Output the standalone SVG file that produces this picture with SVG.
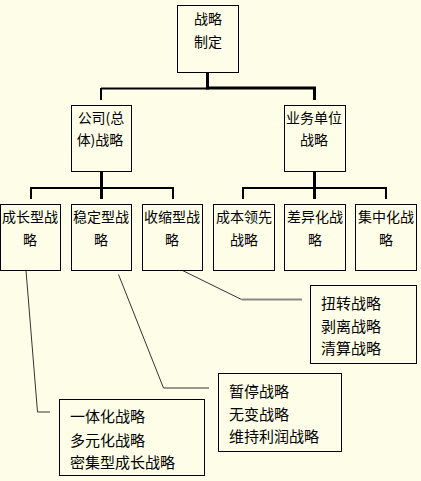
<svg xmlns="http://www.w3.org/2000/svg" width="421" height="481" viewBox="0 0 421 481">
<style>
.box{fill:none;stroke:#000;stroke-width:1}
text{font-family:"Noto Sans CJK SC","Noto Sans",sans-serif;fill:#000}
.t14{font-size:14px;text-anchor:middle}
.t15{font-size:15px}
.thin{stroke:#000;stroke-width:2;fill:none}
.thick{stroke:#000;stroke-width:3;fill:none}
.lead{stroke:#333;stroke-width:1;fill:none}
</style>
<rect width="421" height="481" fill="#FEFEE8"/>
<g id="connectors">
<line class="thick" x1="207.5" y1="72" x2="207.5" y2="89.5"/>
<line class="thin" x1="101" y1="88.5" x2="207" y2="88.5"/>
<line class="thick" x1="206" y1="88" x2="316" y2="88"/>
<line class="thin" x1="101" y1="88" x2="101" y2="100"/>
<line class="thick" x1="314.5" y1="87" x2="314.5" y2="100"/>
<line class="thick" x1="101.5" y1="171" x2="101.5" y2="199"/>
<polyline class="thin" points="31,199 31,188 173,188 173,199"/>
<line class="thick" x1="314.5" y1="171" x2="314.5" y2="199"/>
<polyline class="thin" points="243,199 243,188 386,188 386,199"/>
<polyline class="lead" points="182.5,270.5 241.5,299.5"/>
<line stroke="#888" stroke-width="2" x1="241.5" y1="299.5" x2="302" y2="299.5"/>
<polyline class="lead" points="118.5,274.5 163.5,388 209,388"/>
<polyline class="lead" stroke="#555" points="26,270.5 37.5,412 50,412"/>
</g>
<g id="n-root"><rect class="box" x="177.5" y="5.5" width="61" height="67"/>
<text class="t14" x="208" y="24">战略</text><text class="t14" x="208" y="47">制定</text></g>
<g id="n-corp"><rect class="box" x="71.5" y="105.5" width="60" height="66"/>
<text class="t14" x="101" y="123">公司(总</text><text class="t14" x="100" y="145">体)战略</text></g>
<g id="n-bu"><rect class="box" x="284.5" y="105.5" width="61" height="66"/>
<text class="t14" x="314" y="123">业务单位</text><text class="t14" x="314" y="145">战略</text></g>
<g id="n-growth"><rect class="box" x="0.5" y="204.5" width="60" height="66"/>
<text class="t14" x="30" y="222">成长型战</text><text class="t14" x="30" y="245">略</text></g>
<g id="n-stable"><rect class="box" x="71.5" y="204.5" width="60" height="66"/>
<text class="t14" x="101" y="222">稳定型战</text><text class="t14" x="101" y="245">略</text></g>
<g id="n-shrink"><rect class="box" x="142.5" y="204.5" width="60" height="66"/>
<text class="t14" x="172" y="222">收缩型战</text><text class="t14" x="172" y="245">略</text></g>
<g id="n-cost"><rect class="box" x="213.5" y="204.5" width="61" height="66"/>
<text class="t14" x="244" y="222">成本领先</text><text class="t14" x="244" y="245">战略</text></g>
<g id="n-diff"><rect class="box" x="284.5" y="204.5" width="61" height="66"/>
<text class="t14" x="315" y="222">差异化战</text><text class="t14" x="315" y="245">略</text></g>
<g id="n-focus"><rect class="box" x="355.5" y="204.5" width="61" height="66"/>
<text class="t14" x="386" y="222">集中化战</text><text class="t14" x="386" y="245">略</text></g>
<g id="n-shrink-list"><rect class="box" x="310.5" y="285.5" width="106" height="78"/>
<text class="t15" x="321" y="308.5">扭转战略</text><text class="t15" x="321" y="331.5">剥离战略</text><text class="t15" x="321" y="354">清算战略</text></g>
<g id="n-stable-list"><rect class="box" x="218.5" y="373.5" width="123" height="78"/>
<text class="t15" x="229" y="397">暂停战略</text><text class="t15" x="229" y="420">无变战略</text><text class="t15" x="229" y="442">维持利润战略</text></g>
<g id="n-growth-list"><rect class="box" x="59.5" y="399.5" width="145" height="76"/>
<text class="t15" x="70" y="422">一体化战略</text><text class="t15" x="70" y="445.5">多元化战略</text><text class="t15" x="70" y="468">密集型成长战略</text></g>
</svg>
